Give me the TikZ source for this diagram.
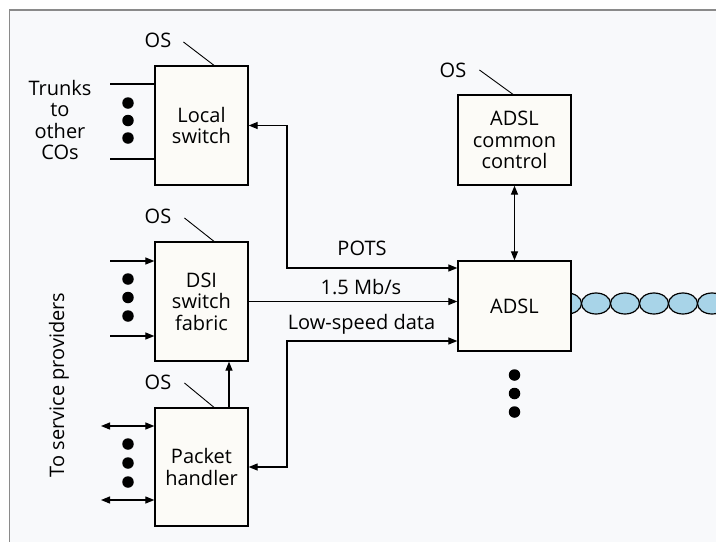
\documentclass[tikz,border=0pt]{standalone}
\usepackage{fontspec}
\setmainfont{Open Sans}
\usetikzlibrary{arrows.meta}
\definecolor{panel}{HTML}{F8F9FB}
\definecolor{boxfill}{HTML}{FCFBF7}
\definecolor{frameline}{HTML}{8A8A8A}
\definecolor{cable}{HTML}{A8D4E8}
\begin{document}
\begin{tikzpicture}[x=1pt, y=-1pt,
  >={Triangle[length=9pt,width=7pt]},
  txt/.style={font=\fontsize{20}{21.5}\selectfont},
  block/.style={txt, draw, line width=1.3pt, fill=boxfill, align=center, inner sep=0pt},
  lbl/.style={txt, inner sep=0pt, align=center},
  link/.style={line width=1.2pt},
  leader/.style={line width=0.9pt},
  dot/.style={circle, fill=black, inner sep=0pt, minimum size=11.5pt},
  bead/.style={draw=black, line width=1.2pt, fill=cable}]
\useasboundingbox (0,0) rectangle (716,542);
\fill[white] (0,0) rectangle (716,542);
% panel and its frame
\fill[panel] (9,10) rectangle (716,542);
\draw[frameline, line width=2pt] (9,10) -- (716,10);
\draw[frameline, line width=1pt] (9,10) -- (9,542);

% subscriber loop leaving the ADSL unit
\begin{scope}
  \clip (571,280) rectangle (716,330);
  \foreach \cx in {567,596,625,654,683,712,741}
    \draw[bead] (\cx,303.5) ellipse [x radius=14.5, y radius=10.5];
\end{scope}

% blocks
\node[block, minimum width=93pt, minimum height=119pt] (ls)  at (201.5,125.5) {Local\\switch};
\node[block, minimum width=93pt, minimum height=119pt] (dsi) at (201.5,301.5) {DSI\\switch\\fabric};
\node[block, minimum width=93pt, minimum height=118pt] (ph)  at (201.5,467)   {Packet\\handler};
\node[block, minimum width=113pt, minimum height=90pt] (acc) at (514.5,140)   {ADSL\\common\\control};
\node[block, minimum width=113pt, minimum height=90pt] (adsl) at (514.5,306)  {ADSL};

% operations-system labels
\node[lbl] (os1) at (158,40)  {OS};
\node[lbl] (os2) at (158,216) {OS};
\node[lbl] (os3) at (158,382) {OS};
\node[lbl] (os4) at (453,70)  {OS};
\draw[leader] ([shift={(12,2)}]os1.east) -- ([xshift=12.5]ls.north);
\draw[leader] ([shift={(13,2)}]os2.east) -- ([xshift=12.5]dsi.north);
\draw[leader] ([shift={(13,1)}]os3.east) -- ([xshift=12.5]ph.north);
\draw[leader] ([shift={(13,0)}]os4.east) -- ([xshift=-1.5]acc.north);

% trunks on the local switch
\node[lbl] (trunks) at (60,120) {Trunks\\to\\other\\COs};
\coordinate (tr1) at (110,84);
\coordinate (tr2) at (110,159);
\draw[link] (tr1) -- (tr1 -| ls.west);
\draw[link] (tr2) -- (tr2 -| ls.west);
\node[dot] (d1) at (128,103) {};
\node[dot] (d2) at (128,120.5) {};
\node[dot] (d3) at (128,138) {};

% inputs of the switch fabric
\coordinate (in1) at (110,261);
\coordinate (in2) at (110,336);
\draw[link,->] (in1) -- (in1 -| dsi.west);
\draw[link,->] (in2) -- (in2 -| dsi.west);
\node[dot] (d4) at (128,279) {};
\node[dot] (d5) at (128,297.5) {};
\node[dot] (d6) at (128,316) {};

% ports of the packet handler
\coordinate (pp1) at (101,426);
\coordinate (pp2) at (101,500);
\draw[link,<->] (pp1) -- (pp1 -| ph.west);
\draw[link,<->] (pp2) -- (pp2 -| ph.west);
\node[dot] (d7) at (128,444) {};
\node[dot] (d8) at (128,463) {};
\node[dot] (d9) at (128,482) {};

\node[lbl, rotate=90] (prov) at (59,385) {To service providers};

% links to the ADSL unit
\coordinate (potsbend) at (287,268);
\coordinate (lowbend) at (287,341);
\draw[link,<->] (ls.east) -| (potsbend) -- (potsbend -| adsl.west);
\draw[link,->] (dsi.east) -- (dsi.east -| adsl.west);
\draw[link,<->] (ph.east) -| (lowbend) -- (lowbend -| adsl.west);
\draw[link,->] ([xshift=27.5]ph.north) -- ([xshift=27.5]dsi.south);
\draw[link,<->] (acc.south) -- (adsl.north);

\node[lbl, anchor=base] (pots) at (362,255) {POTS};
\node[lbl, anchor=base] (rate) at (361,294) {1.5 Mb/s};
\node[lbl, anchor=base] (low)  at (361.5,329) {Low-speed data};

% further ADSL units
\node[dot] (d10) at (514.5,375) {};
\node[dot] (d11) at (514.5,393.5) {};
\node[dot] (d12) at (514.5,412) {};
\end{tikzpicture}
\end{document}
